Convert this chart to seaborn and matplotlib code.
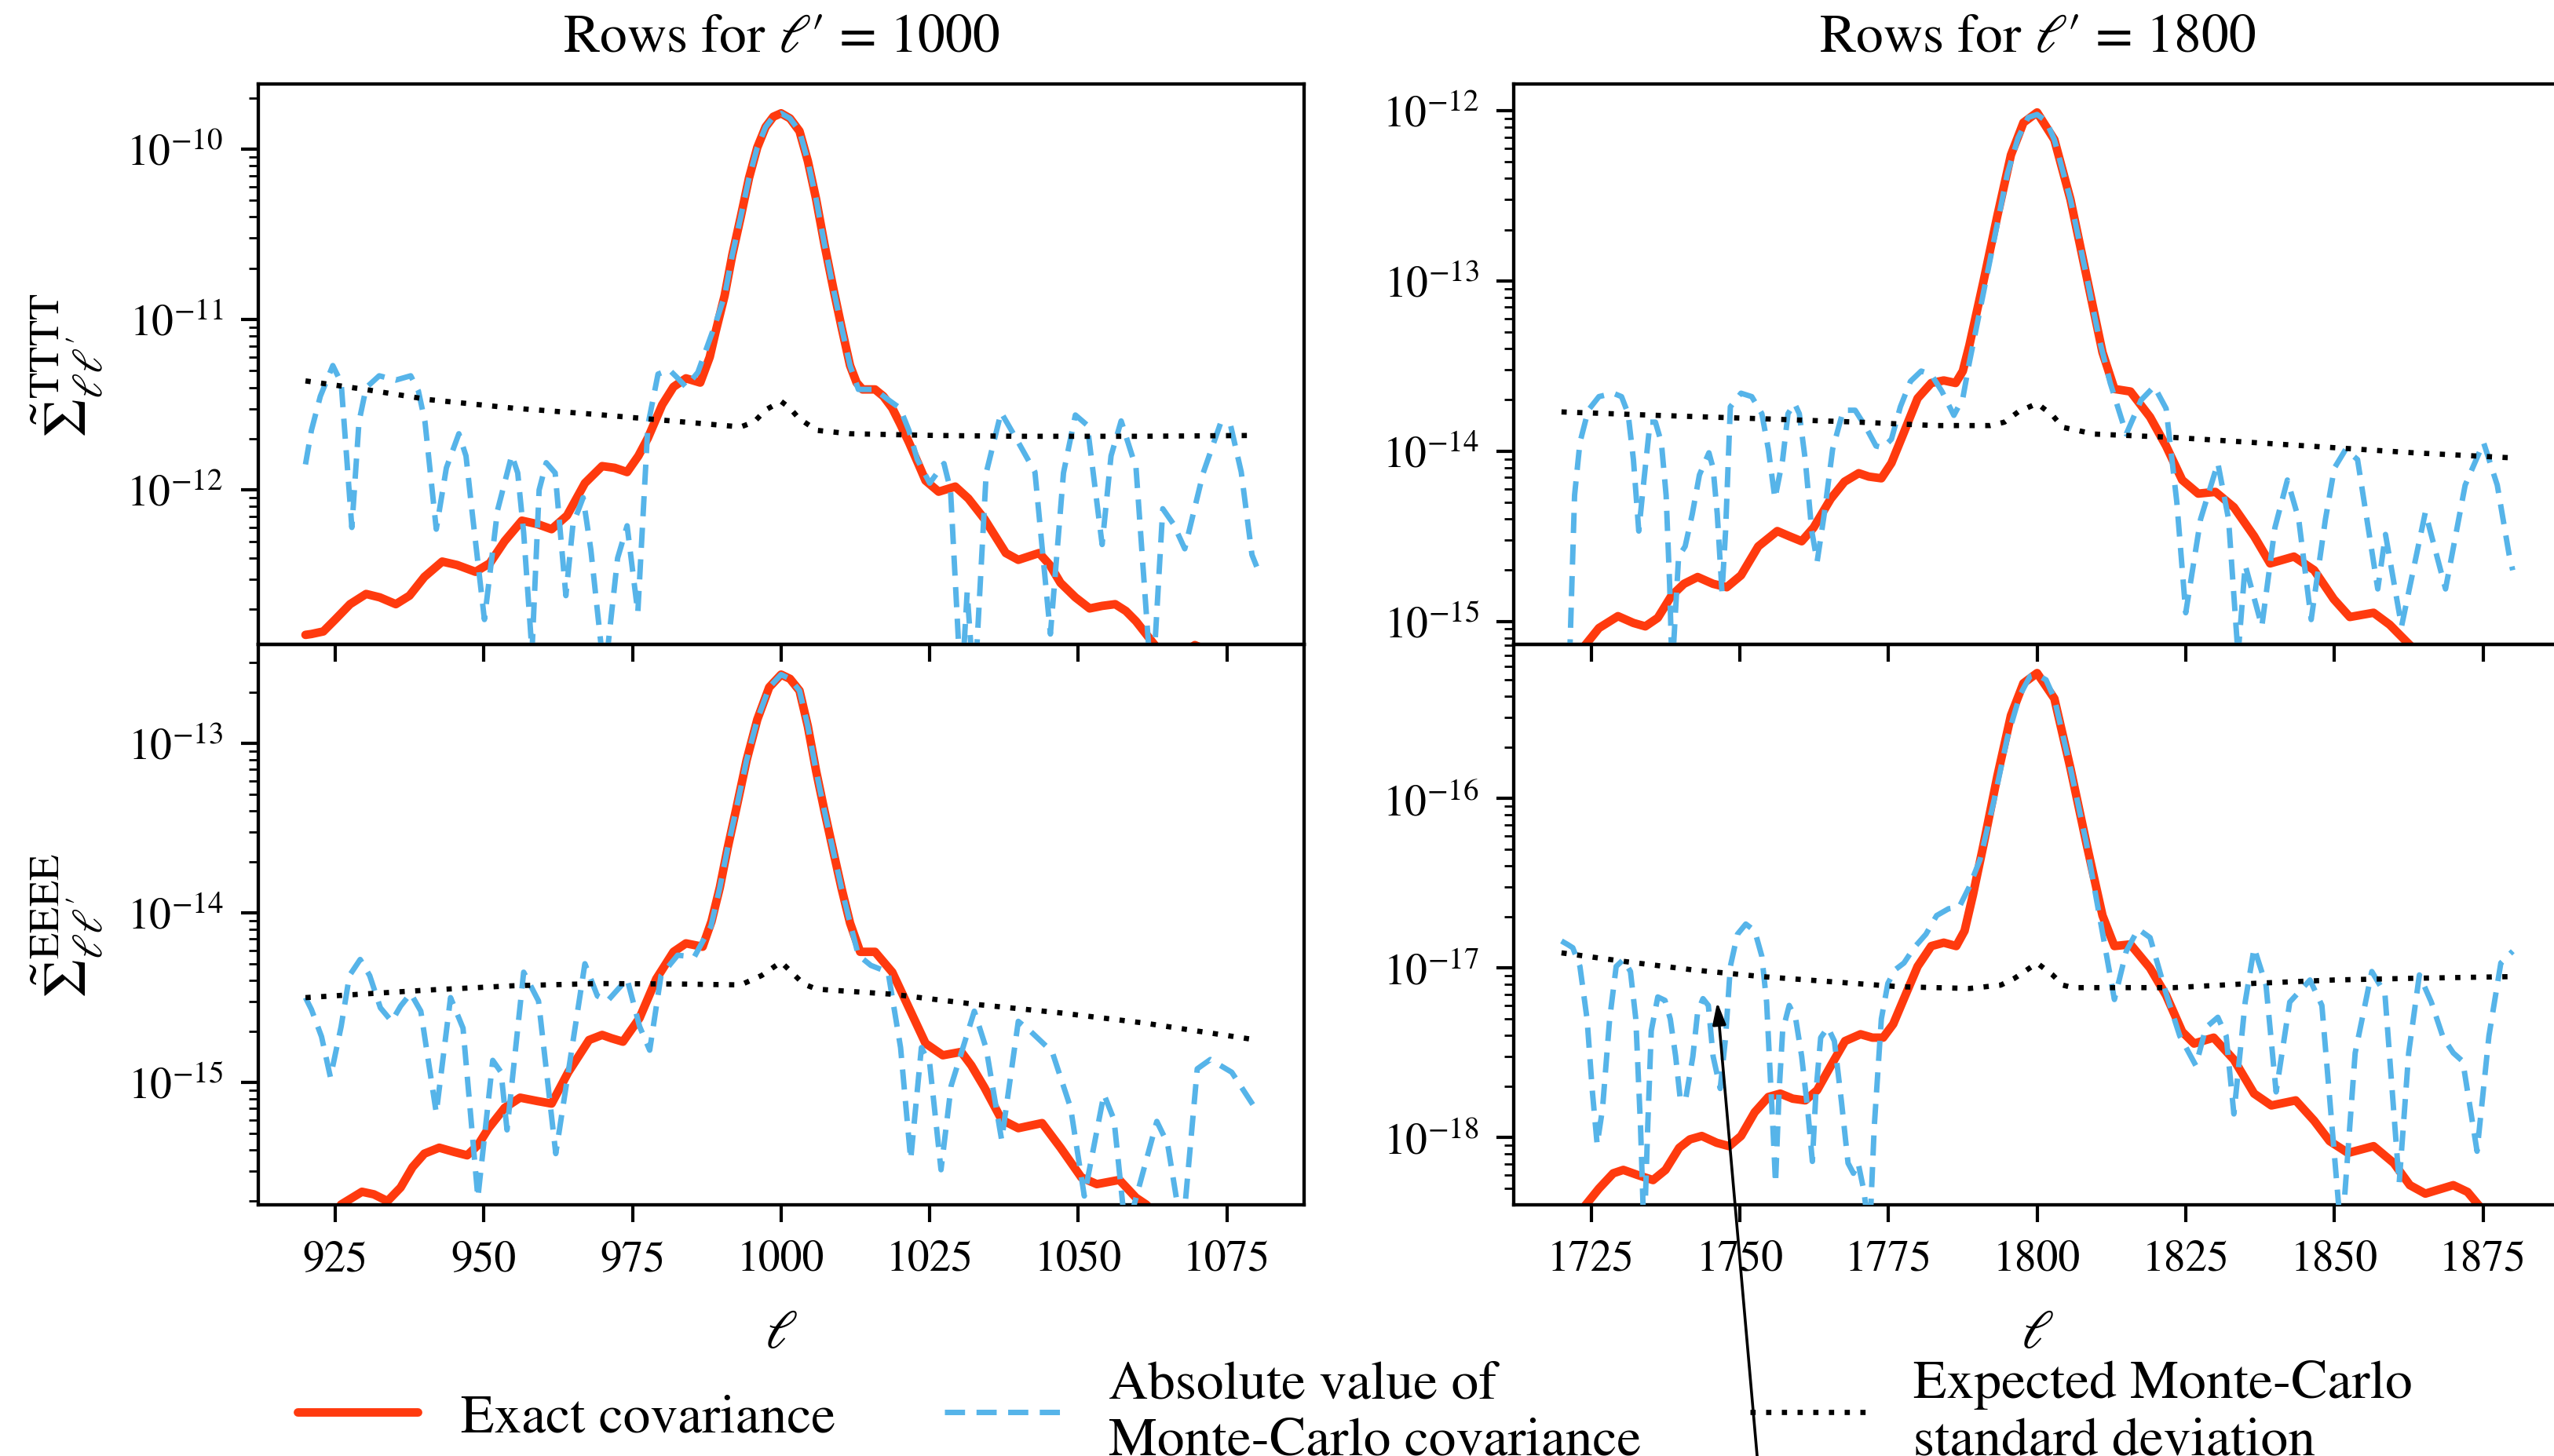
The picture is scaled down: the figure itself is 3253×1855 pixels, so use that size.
import matplotlib
matplotlib.use("Agg")
import numpy as np
import pandas as pd
import matplotlib.pyplot as plt
import seaborn as sns

# ---------------- data: (ell, log10 value) ----------------
TT1000_EXACT = [(920,-12.85),(921,-12.845),(923,-12.83),(925,-12.76),(927.5,-12.67),(930.2,-12.61),
    (932.5,-12.63),(935.2,-12.67),(937.5,-12.62),(940,-12.51),(943,-12.42),(945.5,-12.44),(948.6,-12.48),
    (951,-12.43),(953.5,-12.3),(956.4,-12.18),(959,-12.2),(961.4,-12.23),(964,-12.15),(967,-11.96),
    (969.9,-11.86),(972,-11.87),(974.1,-11.895),(976,-11.8),(977.6,-11.695),(980,-11.5),(981.9,-11.395),
    (984,-11.345),(986.4,-11.37),(988,-11.22),(989,-11.07),(990.5,-10.86),(991.8,-10.62),(993.2,-10.40),
    (994.6,-10.17),(996,-9.99),(997.4,-9.87),(998.7,-9.81),(1000,-9.79),(1001.5,-9.82),(1003.1,-9.895),
    (1004.5,-10.07),(1005.9,-10.295),(1007.3,-10.56),(1008.8,-10.82),(1010.2,-11.05),(1011.6,-11.27),
    (1012.7,-11.37),(1013.7,-11.41),(1015.8,-11.41),(1017.2,-11.45),(1018.7,-11.52),(1020,-11.61),
    (1021.5,-11.72),(1023,-11.84),(1024.3,-11.945),(1026.5,-12.01),(1029.3,-11.98),(1031.5,-12.05),
    (1034.2,-12.17),(1036,-12.27),(1037.8,-12.37),(1039.9,-12.41),(1043.4,-12.37),(1045.2,-12.44),
    (1047,-12.545),(1049.5,-12.63),(1051.9,-12.695),(1054,-12.68),(1056.2,-12.67),(1058,-12.71),
    (1059.7,-12.77),(1061.5,-12.85),(1063.3,-12.93),(1066,-12.99),(1069.6,-12.91),(1073,-12.96),
    (1076,-13.05),(1080,-13.15)]
TT1000_MC = [(920,-11.85),(921,-11.65),(922.5,-11.45),(924.6,-11.27),(926,-11.37),(927.8,-12.22),(929,-11.6),
    (930.2,-11.4),(932.4,-11.33),(935.2,-11.355),(937.7,-11.33),(939,-11.42),(940.1,-11.6),(942,-12.23),
    (943.7,-11.87),(945.8,-11.67),(947,-11.8),(948,-12.12),(950.1,-12.76),(952.3,-12.12),(954.7,-11.795),
    (955.7,-11.9),(956.7,-12.25),(958.1,-12.95),(959.3,-12.0),(960.5,-11.84),(962,-11.9),(963.8,-12.62),
    (965,-12.2),(966.7,-12.045),(968,-12.35),(970.3,-13.1),(972.5,-12.4),(974.1,-12.21),(975.9,-12.72),
    (977.6,-11.62),(979.3,-11.32),(981.2,-11.295),(982.5,-11.34),(984,-11.395),(986,-11.31),(989,-11.02),
    (990.5,-10.86),(991.8,-10.62),(993.2,-10.40),(994.6,-10.17),(996,-9.99),(997.4,-9.87),(998.7,-9.81),
    (1000,-9.79),(1001.5,-9.82),(1003.1,-9.895),(1004.5,-10.07),(1005.9,-10.295),(1007.3,-10.56),
    (1008.8,-10.82),(1010.2,-11.05),(1011.6,-11.27),(1013,-11.41),(1015.8,-11.41),(1018,-11.47),
    (1020,-11.52),(1021.5,-11.65),(1022.9,-11.82),(1025,-11.96),(1027.4,-11.845),(1028.5,-12.0),
    (1030.3,-13.2),(1031.3,-12.6),(1032.5,-13.2),(1034.5,-11.9),(1037,-11.545),(1039.9,-11.72),
    (1042.7,-11.895),(1045.3,-12.845),(1047.5,-11.9),(1049.5,-11.56),(1051.5,-11.62),(1054,-12.32),
    (1055.5,-11.8),(1057.2,-11.595),(1059.7,-11.87),(1062.4,-13.2),(1064.2,-12.11),(1066,-12.2),
    (1067.9,-12.345),(1071,-11.9),(1073.9,-11.61),(1075.6,-11.62),(1077.4,-11.895),(1079.2,-12.38),
    (1080,-12.45)]
TT1000_SIGMA = [(920,-11.36),(930,-11.41),(940.8,-11.47),(955,-11.52),(969.2,-11.5575),(983.3,-11.6),
    (993.2,-11.63),(995.5,-11.6),(997.4,-11.53),(1000,-11.48),(1001.5,-11.52),(1003,-11.58),(1006,-11.65),
    (1011.6,-11.67),(1025.7,-11.68),(1040,-11.685),(1060,-11.685),(1080,-11.68)]

TT1800_EXACT = [(1720,-15.35),(1722,-15.22),(1724,-15.14),(1726.3,-15.04),(1729.5,-14.97),(1732.1,-15.01),
    (1734.1,-15.03),(1736.2,-14.98),(1738.5,-14.85),(1740.6,-14.78),(1742.9,-14.74),(1745.5,-14.78),
    (1747.8,-14.80),(1750.2,-14.73),(1753.1,-14.56),(1756.3,-14.47),(1758.3,-14.50),(1760.4,-14.53),
    (1762.4,-14.45),(1765.3,-14.28),(1767.6,-14.18),(1770,-14.13),(1771.7,-14.15),(1773.8,-14.16),
    (1775.5,-14.07),(1777.6,-13.89),(1779.9,-13.69),(1782.2,-13.60),(1784.3,-13.585),(1786.3,-13.60),
    (1787.5,-13.53),(1788.6,-13.38),(1791,-13.0),(1793.3,-12.62),(1795.6,-12.26),(1797.7,-12.07),
    (1800,-12.01),(1802.9,-12.17),(1805.6,-12.52),(1808.3,-12.97),(1811,-13.42),(1813,-13.635),
    (1815.7,-13.65),(1819,-13.80),(1821.7,-13.97),(1824.4,-14.17),(1827.1,-14.25),(1830,-14.24),
    (1833.1,-14.33),(1836.5,-14.5),(1839.2,-14.66),(1843.2,-14.62),(1846.6,-14.70),(1849.9,-14.87),
    (1852.6,-14.975),(1856.6,-14.95),(1859.3,-15.02),(1862.7,-15.14),(1866,-15.25),(1870,-15.35),
    (1875,-15.45),(1880,-15.55)]
TT1800_MC = [(1720,-15.4),(1721.3,-15.3),(1722.2,-14.26),(1723.1,-13.95),(1724.5,-13.76),(1726.3,-13.68),
    (1728.7,-13.66),(1730.1,-13.68),(1731.2,-13.78),(1732.1,-14.05),(1733,-14.47),(1733.9,-14.16),
    (1734.9,-13.83),(1735.8,-13.83),(1736.8,-13.95),(1737.6,-14.26),(1738.2,-14.79),(1738.6,-15.3),
    (1739.7,-14.62),(1740.8,-14.56),(1742,-14.37),(1743.2,-14.14),(1744.8,-14.01),(1745.5,-14.1),
    (1746.2,-14.37),(1747,-14.83),(1747.6,-14.47),(1748.4,-13.74),(1750.2,-13.66),(1752,-13.68),
    (1753.7,-13.78),(1754.8,-13.99),(1755.9,-14.28),(1757.2,-14.05),(1758.1,-13.78),(1759.2,-13.72),
    (1760,-13.78),(1761,-14.05),(1762.1,-14.47),(1763,-14.65),(1764.2,-14.37),(1765.6,-13.99),
    (1767.4,-13.76),(1769.4,-13.76),(1771.2,-13.86),(1772.9,-13.97),(1774.1,-13.98),(1775.5,-13.93),
    (1777,-13.74),(1778.7,-13.59),(1780.5,-13.53),(1782.2,-13.55),(1784,-13.65),(1786,-13.79),
    (1787.5,-13.69),(1788.6,-13.48),(1790.4,-13.17),(1792.7,-12.77),(1795,-12.37),(1796.8,-12.16),
    (1798.5,-12.04),(1800,-12.022),(1801.5,-12.06),(1802.9,-12.17),(1805.6,-12.52),(1808.3,-12.97),
    (1810.5,-13.35),(1812.3,-13.6),(1815,-13.90),(1817.5,-13.7),(1819.7,-13.62),(1821.7,-13.75),
    (1823.5,-14.3),(1825,-14.95),(1827.5,-14.4),(1830.4,-14.07),(1832.2,-14.4),(1833.8,-15.2),
    (1835,-14.67),(1837.8,-15.03),(1840,-14.45),(1842.1,-14.17),(1844,-14.4),(1846.1,-14.99),
    (1848.5,-14.4),(1850,-14.1),(1851.9,-13.99),(1853.9,-14.05),(1857.3,-14.81),(1858.6,-14.49),
    (1861.3,-15.03),(1865.3,-14.36),(1868.7,-14.81),(1872,-14.2),(1875.1,-13.95),(1877.4,-14.2),
    (1879.4,-14.61),(1880,-14.7)]
TT1800_SIGMA = [(1720,-13.77),(1736,-13.79),(1753.7,-13.81),(1770,-13.83),(1782.8,-13.85),(1792.1,-13.85),
    (1794.5,-13.83),(1796.8,-13.77),(1800,-13.72),(1802.6,-13.79),(1804.3,-13.86),(1809.6,-13.90),
    (1823,-13.92),(1836.5,-13.95),(1850,-13.98),(1863.3,-14.01),(1880,-14.04)]

EE1000_EXACT = [(920,-16.05),(923,-15.9),(926,-15.72),(929.5,-15.645),(931.5,-15.66),(933.8,-15.70),
    (936,-15.62),(938,-15.50),(940,-15.42),(942.5,-15.385),(945,-15.41),(947.2,-15.43),(949,-15.37),
    (950.8,-15.27),(953.5,-15.15),(956.1,-15.09),(959,-15.11),(961.4,-15.125),(964.2,-14.94),(967.7,-14.75),
    (969.9,-14.72),(971.5,-14.74),(973.4,-14.76),(976.2,-14.62),(979,-14.39),(981.9,-14.23),(984,-14.18),
    (986.8,-14.20),(988.3,-14.05),(989.7,-13.85),(991,-13.62),(992.5,-13.38),(994.2,-13.1),(996,-12.86),
    (998,-12.67),(1000,-12.595),(1001.5,-12.62),(1003.1,-12.69),(1004.5,-12.9),(1005.9,-13.165),
    (1007.3,-13.4),(1008.8,-13.64),(1010.2,-13.86),(1011.6,-14.06),(1013.3,-14.23),(1015.8,-14.23),
    (1018.7,-14.35),(1021.5,-14.56),(1024.3,-14.77),(1027.2,-14.84),(1030.3,-14.82),(1032,-14.9),
    (1034.2,-15.03),(1037.1,-15.22),(1039.9,-15.27),(1043.9,-15.24),(1047,-15.385),(1050.5,-15.56),
    (1053.1,-15.6),(1056.9,-15.575),(1059.7,-15.68),(1061.4,-15.72),(1065,-15.85),(1070,-15.95),
    (1075,-16.05),(1080,-16.15)]
EE1000_MC = [(920,-14.5),(921,-14.57),(922.7,-14.73),(924.2,-14.97),(926,-14.67),(927.4,-14.37),
    (929.2,-14.275),(930.8,-14.37),(932.6,-14.56),(934.5,-14.64),(936,-14.55),(937.7,-14.475),(939.4,-14.58),
    (942,-15.18),(944.4,-14.5),(946.5,-14.68),(949,-15.68),(951.5,-14.87),(952.9,-14.94),(953.9,-15.28),
    (956.7,-14.35),(959.2,-14.52),(962.1,-15.42),(967,-14.30),(969.1,-14.49),(970.8,-14.52),(974.1,-14.39),
    (976.2,-14.67),(977.9,-14.81),(979.8,-14.37),(982.6,-14.25),(985.4,-14.26),(988.2,-14.08),(989.7,-13.85),
    (991,-13.62),(992.5,-13.38),(994.2,-13.1),(996,-12.86),(998,-12.67),(1000,-12.595),(1001.5,-12.62),
    (1003.1,-12.69),(1004.5,-12.9),(1005.9,-13.165),(1007.3,-13.4),(1008.8,-13.64),(1010.2,-13.86),
    (1011.6,-14.06),(1013,-14.25),(1015.1,-14.31),(1018,-14.35),(1020.1,-14.795),(1021.8,-15.455),
    (1023.6,-14.795),(1025,-14.89),(1026.9,-15.515),(1028.6,-15.02),(1032.5,-14.58),(1034.5,-14.8),
    (1037.1,-15.34),(1039.9,-14.64),(1042,-14.7),(1045.6,-14.82),(1048.7,-15.15),(1051,-15.67),
    (1054.3,-15.07),(1056,-15.22),(1058,-15.9),(1063.2,-15.23),(1065,-15.36),(1067.5,-15.9),(1070,-14.92),
    (1072.2,-14.865),(1075.8,-14.94),(1079.7,-15.15),(1080,-15.17)]
EE1000_SIGMA = [(920,-14.50),(933.8,-14.47),(940.8,-14.455),(955,-14.43),(969.2,-14.417),(983.3,-14.42),
    (993.2,-14.425),(996.7,-14.37),(1000,-14.29),(1003.8,-14.42),(1006,-14.45),(1018.7,-14.48),
    (1032.8,-14.54),(1047,-14.59),(1061.1,-14.65),(1080,-14.75)]

EE1800_EXACT = [(1720,-18.6),(1722,-18.5),(1724,-18.40),(1726.3,-18.30),(1728.7,-18.21),(1730.4,-18.19),
    (1732.8,-18.22),(1735.4,-18.25),(1737.5,-18.19),(1739.8,-18.06),(1741.6,-18.01),(1743.6,-17.99),
    (1746.1,-18.03),(1748.2,-18.05),(1750.2,-17.99),(1752.5,-17.85),(1754.8,-17.76),(1756.8,-17.74),
    (1758.9,-17.77),(1761,-17.78),(1763,-17.72),(1765.4,-17.57),(1767.7,-17.43),(1770.3,-17.39),
    (1772.3,-17.41),(1774.1,-17.41),(1775.8,-17.33),(1777.6,-17.18),(1779.9,-16.99),(1782.2,-16.87),
    (1784.3,-16.85),(1786.4,-16.87),(1787.8,-16.78),(1789.2,-16.57),(1791,-16.27),(1793.3,-15.87),
    (1795.6,-15.51),(1797.7,-15.32),(1800,-15.26),(1802.9,-15.41),(1805.6,-15.82),(1808.3,-16.265),
    (1811,-16.69),(1813,-16.87),(1815.7,-16.86),(1819,-17.0),(1821.7,-17.16),(1824.4,-17.375),
    (1826.4,-17.445),(1829.7,-17.41),(1833.1,-17.54),(1836.5,-17.74),(1839.4,-17.81),(1843.5,-17.78),
    (1846.6,-17.9),(1849.2,-18.02),(1852.3,-18.09),(1856.6,-18.05),(1860,-18.15),(1862.7,-18.28),
    (1865.3,-18.33),(1870,-18.28),(1872.4,-18.32),(1874.3,-18.40),(1877,-18.52),(1880,-18.62)]
EE1800_MC = [(1720,-16.84),(1721,-16.86),(1721.9,-16.88),(1723.1,-16.99),(1724.3,-17.30),(1725.2,-17.73),
    (1726,-18.04),(1726.9,-17.83),(1728.1,-17.30),(1729.2,-16.99),(1730.4,-16.95),(1731.6,-17.02),
    (1732.5,-17.30),(1733.3,-17.94),(1733.9,-18.6),(1734.5,-17.94),(1735.1,-17.37),(1736.2,-17.17),
    (1737.4,-17.19),(1738.3,-17.30),(1739.2,-17.52),(1740,-17.78),(1740.9,-17.77),(1742.1,-17.52),
    (1742.9,-17.26),(1743.8,-17.18),(1744.7,-17.22),(1745.5,-17.52),(1746.7,-17.71),(1747.6,-17.41),
    (1748.4,-16.99),(1749.6,-16.80),(1751,-16.74),(1752.5,-16.78),(1753.7,-16.93),(1754.5,-17.20),
    (1755.1,-17.62),(1755.7,-18.04),(1756,-18.27),(1756.6,-17.73),(1757.2,-17.37),(1758.3,-17.22),
    (1759.4,-17.3),(1760.4,-17.52),(1761.4,-17.83),(1762.2,-18.14),(1762.8,-17.73),(1763.6,-17.41),
    (1764.8,-17.35),(1765.9,-17.43),(1767.1,-17.79),(1768.2,-18.15),(1769.1,-18.21),(1769.9,-18.15),
    (1770.9,-18.32),(1771.8,-18.6),(1772.6,-17.94),(1773.8,-17.30),(1774.9,-17.09),(1776.1,-17.01),
    (1777.6,-16.97),(1779.3,-16.88),(1781.3,-16.80),(1783.1,-16.69),(1785.1,-16.65),(1786.9,-16.64),
    (1788.6,-16.52),(1790.4,-16.36),(1792.7,-16.02),(1795,-15.64),(1797.1,-15.39),(1798.8,-15.28),
    (1800,-15.27),(1801.5,-15.3),(1802.9,-15.41),(1805.6,-15.82),(1808.3,-16.265),(1809.6,-16.52),
    (1811.3,-16.85),(1813,-17.185),(1815,-16.9),(1817,-16.77),(1819,-16.82),(1821.7,-17.15),(1824,-17.4),
    (1826.7,-17.575),(1828.4,-17.35),(1830.4,-17.29),(1831.8,-17.4),(1833.1,-17.86),(1835,-17.2),
    (1836.5,-16.88),(1838.5,-17.1),(1840.2,-17.73),(1842.5,-17.2),(1845.9,-17.07),(1847.9,-17.22),
    (1851.2,-18.6),(1853.5,-17.5),(1856.3,-17.02),(1858.5,-17.15),(1860.9,-18.27),(1862.5,-17.5),
    (1864.3,-17.04),(1866.3,-17.2),(1868.3,-17.41),(1870,-17.5),(1871.6,-17.55),(1874,-18.08),(1876,-17.4),
    (1878,-16.97),(1880,-16.9)]
EE1800_SIGMA = [(1720,-16.91),(1730.4,-16.96),(1742,-17.01),(1753.7,-17.05),(1765.3,-17.08),(1777,-17.11),
    (1788.6,-17.12),(1793.9,-17.10),(1796.2,-17.06),(1800,-16.97),(1802.6,-17.04),(1804.3,-17.10),
    (1806,-17.115),(1823,-17.115),(1836.5,-17.09),(1849.9,-17.07),(1863.3,-17.06),(1880,-17.05)]

# axis limits (log10 of y limits) and ticks
YLIM_LOG10 = {"tt1000": (-12.906, -9.618), "tt1800": (-15.136, -11.843),
              "ee1000": (-15.722, -12.417), "ee1800": (-18.396, -15.091)}
XTICKS_1000 = [925, 950, 975, 1000, 1025, 1050, 1075]
XTICKS_1800 = [1725, 1750, 1775, 1800, 1825, 1850, 1875]
COL_TITLES = ["Rows for $\\ell$\u2032 = 1000", "Rows for $\\ell$\u2032 = 1800"]
ROW_LABELS = [r"$\tilde{\Sigma}^{\mathrm{TTTT}}_{\ell\ell'}$", r"$\tilde{\Sigma}^{\mathrm{EEEE}}_{\ell\ell'}$"]
LEGEND_LABELS = ["Exact covariance", "Absolute value of\nMonte-Carlo covariance",
                 "Expected Monte-Carlo\nstandard deviation"]
ARROW_TIP = (1746.2, -17.20)   # (ell, log10 value) in the EEEE l'=1800 panel

RED = "#FF3A0E"
BLUE = "#56B4E9"

# ---------------- style ----------------
sns.set_theme(style="ticks")
plt.rcParams.update({
    "font.family": ["STIXGeneral", "Liberation Serif", "DejaVu Serif"],
    "mathtext.fontset": "stix",
    "axes.edgecolor": "black", "axes.linewidth": 1.55,
    "xtick.color": "black", "ytick.color": "black",
    "text.color": "black", "axes.labelcolor": "black",
    "xtick.major.size": 7.9, "xtick.major.width": 1.5,
    "ytick.major.size": 7.9, "ytick.major.width": 1.5,
    "ytick.minor.size": 4.3, "ytick.minor.width": 1.0,
    "xtick.direction": "out", "ytick.direction": "out",
    "xtick.labelsize": 20, "ytick.labelsize": 20,
})

W, H, DPI = 3253, 1856, 200
fig, axes = plt.subplots(2, 2, figsize=(W / DPI, H / DPI), dpi=DPI, sharex="col")
fig.subplots_adjust(left=328.5 / W, right=3261 / W, top=1 - 108 / H, bottom=1 - 1536 / H,
                    hspace=0.0, wspace=267 / 1332.5)


def frame(points):
    a = np.asarray(points, dtype=float)
    return pd.DataFrame({"ell": a[:, 0], "value": 10.0 ** a[:, 1]})


def draw(ax, exact, mc, sigma, key):
    ax.set_yscale("log")
    ax.patch.set_alpha(0.0)
    sns.lineplot(data=frame(exact), x="ell", y="value", ax=ax, color=RED, linewidth=3.9,
                 estimator=None, sort=False, legend=False, label=LEGEND_LABELS[0], zorder=2)
    sns.lineplot(data=frame(mc), x="ell", y="value", ax=ax, color=BLUE, linewidth=2.5,
                 linestyle=(0, (3.7, 2.1)), estimator=None, sort=False, legend=False,
                 label=LEGEND_LABELS[1], zorder=3)
    sns.lineplot(data=frame(sigma), x="ell", y="value", ax=ax, color="black", linewidth=2.4,
                 linestyle=(0, (1.0, 2.0)), estimator=None, sort=False, legend=False,
                 label=LEGEND_LABELS[2], zorder=4)
    lo, hi = YLIM_LOG10[key]
    ax.set_ylim(10 ** lo, 10 ** hi)
    ax.set_xlabel("")
    ax.set_ylabel("")
    ax.tick_params(axis="x", which="minor", bottom=False)
    ax.tick_params(axis="x", pad=8)
    ax.tick_params(axis="y", which="both", pad=8)


draw(axes[0, 0], TT1000_EXACT, TT1000_MC, TT1000_SIGMA, "tt1000")
draw(axes[0, 1], TT1800_EXACT, TT1800_MC, TT1800_SIGMA, "tt1800")
draw(axes[1, 0], EE1000_EXACT, EE1000_MC, EE1000_SIGMA, "ee1000")
draw(axes[1, 1], EE1800_EXACT, EE1800_MC, EE1800_SIGMA, "ee1800")

for col, ticks, lims in [(0, XTICKS_1000, (912, 1088)), (1, XTICKS_1800, (1712, 1888))]:
    axes[1, col].set_xlim(*lims)
    axes[1, col].set_xticks(ticks)
    axes[1, col].set_xticklabels([str(t) for t in ticks])
    axes[1, col].set_xlabel(r"$\ell$", fontsize=25, labelpad=14)
    axes[0, col].set_title(COL_TITLES[col], fontsize=25, pad=15)
    axes[0, col].tick_params(axis="x", labelbottom=False)

for row in range(2):
    axes[row, 0].set_ylabel(ROW_LABELS[row], fontsize=28, labelpad=10)

# annotation arrow coming from below the figure
axes[1, 1].annotate("", xy=(ARROW_TIP[0], 10 ** ARROW_TIP[1]), xycoords="data",
                    xytext=(2255.6, -200), textcoords="figure pixels",
                    arrowprops=dict(arrowstyle="-|>,head_length=0.4,head_width=0.12",
                                    mutation_scale=21, color="black", lw=1.3,
                                    shrinkA=0, shrinkB=0),
                    annotation_clip=False)

handles, labels = axes[0, 0].get_legend_handles_labels()
fig.legend(handles, labels, loc="center", bbox_to_anchor=(1726 / W, 55 / H), ncol=3,
           frameon=False, fontsize=25, handlelength=2.2, columnspacing=2.0, handletextpad=0.8)

fig.savefig("out.png", dpi=DPI)
